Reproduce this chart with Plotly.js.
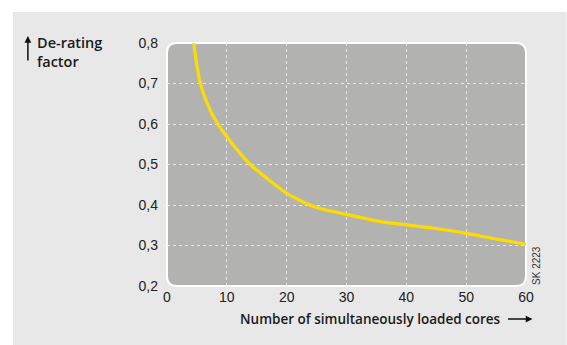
<!DOCTYPE html>
<html>
<head>
<meta charset="utf-8">
<script src="https://cdn.plot.ly/plotly-3.0.1.min.js"></script>
<style>html,body{margin:0;padding:0;background:#fff;}#chart{width:567px;height:345px;}</style>
</head>
<body>
<div id="chart"></div>
<script>
// Data
const cores = [4.47, 4.86, 5.58, 6.7, 8.47, 10, 11.4, 13.9, 16.7, 20, 22.25, 25, 30, 35, 40, 45, 50, 55, 60];
const derating = [0.80, 0.758, 0.70, 0.651, 0.60, 0.569, 0.542, 0.50, 0.466, 0.429, 0.411, 0.394, 0.377, 0.361, 0.351, 0.342, 0.33, 0.316, 0.303];
const xTicks = [0, 10, 20, 30, 40, 50, 60];
const yTicks = [0.2, 0.3, 0.4, 0.5, 0.6, 0.7, 0.8];
const yTickText = ['0,2', '0,3', '0,4', '0,5', '0,6', '0,7', '0,8'];
const yTitle = 'De-rating<br>factor';
const xTitle = 'Number of simultaneously loaded cores';
const code = 'SK 2223';

const W = 567, H = 345;
const M = {l: 166.5, r: 40.5, t: 43, b: 59};
const pw = W - M.l - M.r, ph = H - M.t - M.b;
const px = x => (x - M.l) / pw;
const py = y => (H - M.b - y) / ph;

function roundRect(x0, y0, x1, y1, r) {
  return 'M' + px(x0 + r) + ',' + py(y0) +
    ' L' + px(x1 - r) + ',' + py(y0) +
    ' Q' + px(x1) + ',' + py(y0) + ' ' + px(x1) + ',' + py(y0 + r) +
    ' L' + px(x1) + ',' + py(y1 - r) +
    ' Q' + px(x1) + ',' + py(y1) + ' ' + px(x1 - r) + ',' + py(y1) +
    ' L' + px(x0 + r) + ',' + py(y1) +
    ' Q' + px(x0) + ',' + py(y1) + ' ' + px(x0) + ',' + py(y1 - r) +
    ' L' + px(x0) + ',' + py(y0 + r) +
    ' Q' + px(x0) + ',' + py(y0) + ' ' + px(x0 + r) + ',' + py(y0) + ' Z';
}

const font = 'Liberation Sans, Arial, sans-serif';
const titleFont = 'Open Sans, DejaVu Sans, sans-serif';

const trace = {
  x: cores, y: derating, type: 'scatter', mode: 'lines',
  line: {color: '#ffdc00', width: 3.2, shape: 'spline', smoothing: 1},
  hoverinfo: 'skip', cliponaxis: true
};

const layout = {
  width: W, height: H,
  margin: M,
  paper_bgcolor: '#ffffff',
  plot_bgcolor: 'rgba(0,0,0,0)',
  showlegend: false,
  xaxis: {
    range: [0, 60], tickvals: xTicks, ticktext: xTicks.map(String),
    showgrid: true, gridcolor: '#e4e4e4', gridwidth: 1, griddash: 'dot',
    zeroline: false, showline: false, ticks: '',
    tickfont: {family: font, size: 14, color: '#222'},
    ticklabelstandoff: 1
  },
  yaxis: {
    range: [0.2, 0.8], tickvals: yTicks, ticktext: yTickText,
    showgrid: true, gridcolor: '#e4e4e4', gridwidth: 1, griddash: 'dot',
    zeroline: false, showline: false, ticks: '',
    tickfont: {family: font, size: 14, color: '#222'},
    ticklabelstandoff: 8
  },
  shapes: [
    {type: 'rect', xref: 'paper', yref: 'paper', layer: 'below',
     x0: px(12), x1: px(567), y0: py(12), y1: py(345),
     fillcolor: '#e8e8e8', line: {width: 0}},
    {type: 'path', xref: 'paper', yref: 'paper', layer: 'below',
     path: roundRect(166.5, 43, 526.5, 286, 10),
     fillcolor: '#b2b3b1', line: {color: '#ffffff', width: 2}}
  ],
  annotations: [
    {xref: 'paper', yref: 'paper', x: px(34), y: py(31), xanchor: 'left', yanchor: 'top',
     text: yTitle, showarrow: false, align: 'left',
     font: {family: titleFont, size: 14.5, color: '#1a1a1a', weight: 600}},
    {xref: 'paper', yref: 'paper', x: px(27), y: py(36), ax: 0, ay: 26, axref: 'pixel', ayref: 'pixel',
     text: '', showarrow: true, arrowhead: 2, arrowsize: 0.9, arrowwidth: 1.5, arrowcolor: '#111'},
    {xref: 'paper', yref: 'paper', x: px(503), y: py(319), xanchor: 'right', yanchor: 'middle',
     text: xTitle, showarrow: false,
     font: {family: titleFont, size: 13.5, color: '#1a1a1a', weight: 600}},
    {xref: 'paper', yref: 'paper', x: px(533), y: py(319), ax: -26, ay: 0, axref: 'pixel', ayref: 'pixel',
     text: '', showarrow: true, arrowhead: 2, arrowsize: 0.9, arrowwidth: 1.5, arrowcolor: '#111'},
    {xref: 'paper', yref: 'paper', x: px(537), y: py(287), xanchor: 'center', yanchor: 'bottom',
     text: code, textangle: -90, showarrow: false,
     font: {family: font, size: 10, color: '#333'}}
  ]
};

Plotly.newPlot('chart', [trace], layout, {displayModeBar: false, staticPlot: true});
</script>
</body>
</html>
